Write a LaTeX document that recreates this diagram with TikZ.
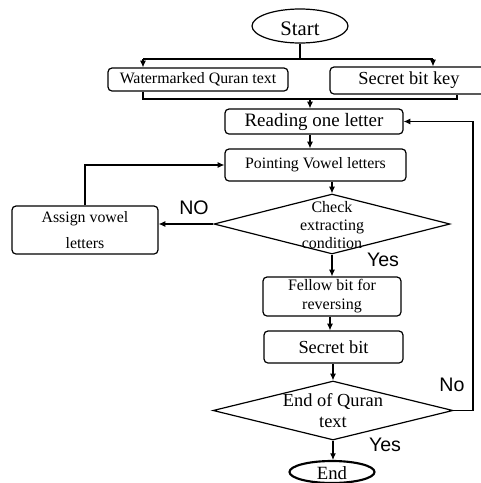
\documentclass[tikz,border=0pt]{standalone}
\usepackage{fontspec}
\setmainfont{Liberation Serif}
\newfontfamily\arialf{Liberation Sans}
\usetikzlibrary{shapes.geometric,arrows.meta}
\begin{document}
\begin{tikzpicture}[x=0.75pt,y=-0.75pt,
 box/.style={draw, rounded corners=3pt, line width=0.9pt, inner sep=0pt, align=center},
 dia/.style={draw, diamond, line width=0.9pt, inner sep=0pt},
 oval/.style={draw, ellipse, inner sep=0pt},
 txt/.style={inner sep=0pt, align=center},
 arr/.style={-{Latex[length=5pt,width=4.5pt]}, line width=0.8pt},
 ln/.style={line width=0.8pt},
 lab/.style={font=\arialf\fontsize{14.7}{16}\selectfont, inner sep=0pt},
]
\clip (0,0) rectangle (481,483);
\fill[white] (0,0) rectangle (481,483);
% nodes
\node[oval, line width=0.9pt, minimum width=72pt, minimum height=25.5pt] (start) at (300,26) {};
\node[txt, font=\fontsize{15.5}{17}\selectfont] (startt) at (300,29) {Start};
\node[box, minimum width=135pt, minimum height=17.25pt, font=\fontsize{11.9}{13}\selectfont] (wm) at (198,79.5) {Watermarked Quran text};
\node[box, minimum width=118.5pt, minimum height=20.25pt, font=\fontsize{13.8}{15}\selectfont] (sk) at (409,80.5) {Secret bit key};
\node[box, minimum width=133.5pt, minimum height=18.75pt, font=\fontsize{14.2}{15}\selectfont] (rd) at (314,121.5) {Reading one letter};
\node[box, minimum width=135.75pt, minimum height=24pt, font=\fontsize{11.9}{13}\selectfont] (pv) at (315.5,165) {Pointing Vowel letters};
\node[dia, minimum width=177pt, minimum height=45pt] (chk) at (332,224) {};
\node[txt, font=\fontsize{12}{13.5}\selectfont] (chkt) at (332,225) {Check\\extracting\\condition};
\node[box, minimum width=109.5pt, minimum height=36pt, font=\fontsize{11.9}{19.5}\selectfont] (as) at (85,230) {Assign vowel\\letters};
\node[box, minimum width=103.5pt, minimum height=29.25pt, font=\fontsize{12}{14.3}\selectfont] (fb) at (332,296.5) {Fellow bit for\\reversing};
\node[box, minimum width=104.25pt, minimum height=24pt, font=\fontsize{13.8}{15}\selectfont] (sb) at (333.5,347) {Secret bit};
\node[dia, minimum width=180pt, minimum height=44.25pt] (eq) at (333,410.5) {};
\node[txt, font=\fontsize{13.8}{15.75}\selectfont] (eqt) at (333,410.5) {End of Quran\\text};
\node[oval, line width=1.6pt, minimum width=63.75pt, minimum height=16.5pt] (end) at (332,472) {};
\node[txt, font=\fontsize{14}{15}\selectfont] (endt) at (332,473) {End};
% labels
\node[lab] (lno) at (194,208) {NO};
\node[lab] (lyes1) at (383,260) {Yes};
\node[lab] (lno2) at (452,385) {No};
\node[lab] (lyes2) at (385,445) {Yes};
% junction coordinates
\coordinate (j1) at (300,59);
\coordinate (jl) at (143,59);
\coordinate (jr) at (433,59);
\coordinate (k1) at (143,99);
\coordinate (k2) at (457,99);
\coordinate (k3) at (310,99);
\coordinate (lp) at (85,165);
\coordinate (r1) at (473,410.5);
\coordinate (r2) at (473,121.5);
% connectors
\draw[ln] (start.south) -- (j1);
\draw[ln] (jl) -- (jr);
\draw[arr] (jl) -- (wm.north -| jl);
\draw[arr] (jr) -- (sk.north -| jr);
\draw[ln] (wm.south -| k1) -- (k1) -- (k2) -- (sk.south -| k2);
\draw[arr] (k3) -- (rd.north -| k3);
\draw[arr] (rd.south -| k3) -- (pv.north -| k3);
\draw[arr] (pv.south -| chk.north) -- (chk.north);
\draw[arr] (chk.west) -- (as.east |- chk.west);
\draw[arr] (as.north) -- (lp) -- (pv.west);
\draw[arr] (chk.south) -- (fb.north -| chk.south);
\draw[arr] (fb.south -| 330,0) -- (sb.north -| 330,0);
\draw[arr] (sb.south -| eq.north) -- (eq.north);
\draw[arr] (eq.east) -- (r1) -- (r2) -- (rd.east);
\draw[arr] (eq.south) -- (end.north -| eq.south);
\end{tikzpicture}
\end{document}
